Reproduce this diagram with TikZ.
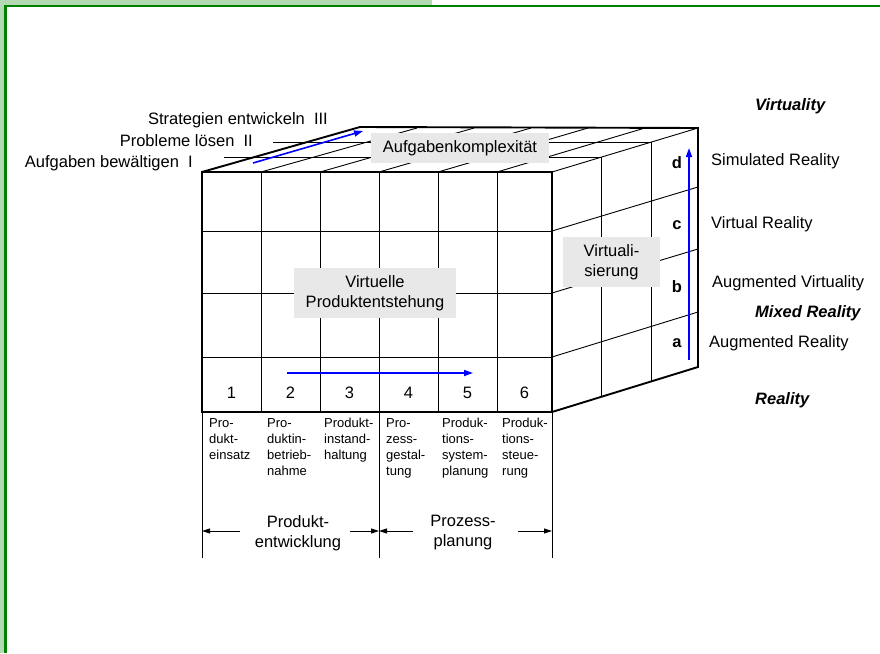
\documentclass[tikz,border=0pt]{standalone}
\usepackage{fontspec}
\setmainfont{Liberation Sans}
\usetikzlibrary{arrows.meta,positioning}
\definecolor{frgreen}{RGB}{0,128,0}
\definecolor{frlight}{RGB}{180,218,180}
\definecolor{lblgray}{RGB}{232,232,232}
\newcommand\fsmain{\fontsize{16.5}{20}\selectfont}
\newcommand\fssmall{\fontsize{13}{16}\selectfont}

\begin{document}
\begin{tikzpicture}[x=1pt,y=-1pt,
  gridline/.style={line width=0.9pt},
  edgeline/.style={line width=1.9pt, line join=miter},
  bluearr/.style={-{Triangle[length=9pt,width=6pt]}, blue, line width=1.6pt},
  dimarr/.style={-{Triangle[length=8pt,width=5pt]}, line width=0.9pt},
  graylbl/.style={fill=lblgray, inner sep=0pt, align=center, font=\fsmain},
  txt/.style={inner sep=0pt, font=\fsmain},
  coltxt/.style={inner sep=0pt, anchor=north west, align=left, font=\fssmall},
  axislbl/.style={inner sep=0pt, anchor=west, font=\fsmain\bfseries\itshape}]
\useasboundingbox (0,0) rectangle (880,653);
% Frame
\fill[frlight] (0,0) rectangle (432,5);
\fill[frlight] (0,0) rectangle (4,653);
\draw[frgreen, line width=2.4pt] (5.5,653) -- (5.5,6) -- (880,6);
% Top face grid (depth lines run out as leaders)
\draw[gridline] (224,157) -- (601,157);
\draw[gridline] (273,142) -- (651,142);
\foreach \fx/\bx in {261/417,320/474,379/531,438/588,497/645}
  \draw[gridline] (\fx,172) -- (\bx,128);
% Right face grid
\foreach \fy/\by in {231/187,293/249,357/312}
  \draw[gridline] (552,\fy) -- (698,\by);
\draw[gridline] (601,157) -- (601,397);
\draw[gridline] (651,142) -- (651,382);
\draw[gridline] (552,172) -- (698,128);
% Front face grid
\foreach \gx in {261,320,379,438,497}
  \draw[gridline] (\gx,172) -- (\gx,412);
\foreach \gy in {231,293,357}
  \draw[gridline] (202,\gy) -- (552,\gy);
% Outer edges
\draw[edgeline] (202,172) rectangle (552,412);
\draw[edgeline] (202,172) -- (360,127) -- (698,128) -- (698,367) -- (552,412);
% Lines below the cube
\foreach \gx in {202,379,552}
  \draw[gridline] (\gx,412) -- (\gx,558);

% Labels on the cube
\node[graylbl, minimum width=178pt, minimum height=30pt] (cmplx) at (460,148) {Aufgabenkomplexität};
\node[graylbl, minimum width=162pt, minimum height=50pt] (vpe) at (375,293) {Virtuelle\\Produktentstehung};
\node[graylbl, minimum width=97pt, minimum height=50pt] (virtlz) at (611.5,262) {Virtuali-\\sierung};
\foreach \n/\cx in {1/231.5,2/290.5,3/349.5,4/408.5,5/467.5,6/524.5}
  \node[txt] (num-\n) at (\cx,393) {\n};
\foreach \v/\vy in {d/163,c/225,b/287,a/343}
  \node[txt, font=\fsmain\bfseries] (lv-\v) at (677,\vy) {\v};

% Task levels
\node[txt, anchor=east] (lvl3) at (328,120) {Strategien entwickeln\ \ III};
\node[txt, anchor=east] (lvl2) at (253,141) {Probleme lösen\ \ II};
\node[txt, anchor=east] (lvl1) at (193,163) {Aufgaben bewältigen\ \ I};

% Reality levels
\node[axislbl] (virt) at (755,106) {Virtuality};
\node[txt, anchor=west] (simr) at (711,161) {Simulated Reality};
\node[txt, anchor=west] (virr) at (711,224) {Virtual Reality};
\node[txt, anchor=west] (augv) at (712,283) {Augmented Virtuality};
\node[axislbl] (mixr) at (755,313) {Mixed Reality};
\node[txt, anchor=west] (augr) at (709,343) {Augmented Reality};
\node[axislbl] (real) at (755,400) {Reality};

% Blue arrows
\coordinate (top-s) at (253,163);
\coordinate (top-e) at (363,131);
\coordinate (row-s) at (287,373);
\coordinate (row-e) at (473,373);
\coordinate (vr-s) at (689,360);
\coordinate (vr-e) at (689,148);
\draw[bluearr] (top-s) -- (top-e);
\draw[bluearr] (row-s) -- (row-e);
\draw[bluearr] (vr-s) -- (vr-e);

% Phase columns
\node[coltxt] (col1) at (209,418) {Pro-\\dukt-\\einsatz};
\node[coltxt] (col2) at (267,418) {Pro-\\duktin-\\betrieb-\\nahme};
\node[coltxt] (col3) at (324,418) {Produkt-\\instand-\\haltung};
\node[coltxt] (col4) at (386,418) {Pro-\\zess-\\gestal-\\tung};
\node[coltxt] (col5) at (442,418) {Produk-\\tions-\\system-\\planung};
\node[coltxt] (col6) at (502,418) {Produk-\\tions-\\steue-\\rung};

% Ranges
\node[txt, align=center] (pe) at (298,533) {Produkt-\\entwicklung};
\node[txt, align=center] (pp) at (463,533) {Prozess-\\planung};
\coordinate (pe-a) at (240,531);
\coordinate (pe-l) at (202,531);
\coordinate (pe-b) at (350,531);
\coordinate (mid) at (379,531);
\coordinate (pp-a) at (413,531);
\coordinate (pp-b) at (518,531);
\coordinate (pp-r) at (552,531);
\draw[dimarr] (pe-a) -- (pe-l);
\draw[dimarr] (pe-b) -- (mid);
\draw[dimarr] (pp-a) -- (mid);
\draw[dimarr] (pp-b) -- (pp-r);
\end{tikzpicture}
\end{document}
